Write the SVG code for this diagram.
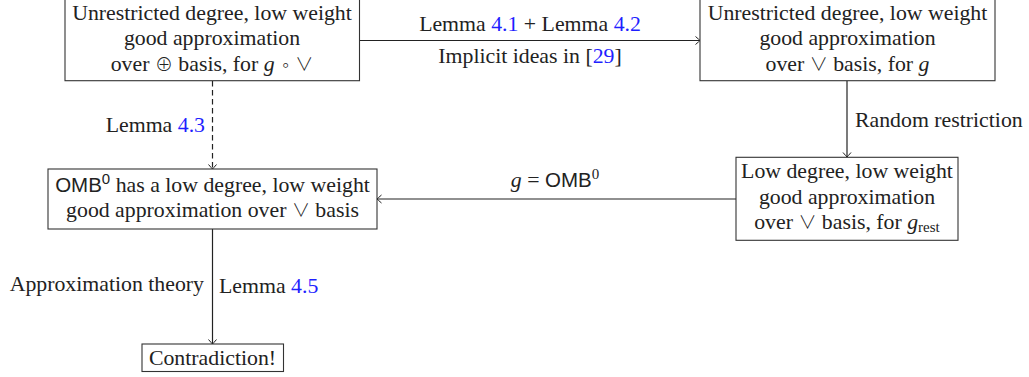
<svg xmlns="http://www.w3.org/2000/svg" width="1029" height="377" viewBox="0 0 1029 377">
<style>
.box{fill:#fff;stroke:#333;stroke-width:1.1}
.t{font-family:"Liberation Serif","DejaVu Serif",serif;font-size:21.8px;fill:#222}
.c{text-anchor:middle}
.e{text-anchor:end}
.l{fill:#1f1fff}
.i{font-style:italic}
.sf{font-family:"Liberation Sans","DejaVu Sans",sans-serif;font-size:20.5px}
.sym{font-family:"Noto Sans CJK JP","DejaVu Sans",sans-serif;font-weight:300;font-size:18px}
.sup{font-size:15px}
.edge{fill:none;stroke:#222;stroke-width:1.2}
.dash{stroke-dasharray:5.5,3.5}
</style>
<defs>
<marker id="ah" viewBox="-6 -5 7 10" markerWidth="7" markerHeight="10" refX="0" refY="0" orient="auto" markerUnits="userSpaceOnUse">
<path d="M-4.5,-4 Q-1,-1 0,0 Q-1,1 -4.5,4" fill="none" stroke="#222" stroke-width="1"/>
</marker>
</defs>
<rect width="1029" height="377" fill="#fff"/>
<g id="connectors">
<line class="edge" x1="359" y1="40.5" x2="700" y2="40.5" marker-end="url(#ah)"/>
<line class="edge" x1="847" y1="81" x2="847" y2="157" marker-end="url(#ah)"/>
<line class="edge" x1="736" y1="199" x2="377" y2="199" marker-end="url(#ah)"/>
<line class="edge dash" x1="212.5" y1="81" x2="212.5" y2="169" marker-end="url(#ah)"/>
<line class="edge" x1="212.5" y1="229" x2="212.5" y2="344" marker-end="url(#ah)"/>
<text class="t c" x="530" y="31">Lemma <tspan class="l">4.1</tspan> + Lemma <tspan class="l">4.2</tspan></text>
<text class="t c" x="530" y="63">Implicit ideas in [<tspan class="l">29</tspan>]</text>
<text class="t" x="855" y="127">Random restriction</text>
<text class="t c" x="555" y="187"><tspan class="i">g</tspan> = <tspan class="sf">OMB</tspan><tspan class="sup" dy="-8">0</tspan></text>
<text class="t e" x="205" y="132">Lemma <tspan class="l">4.3</tspan></text>
<text class="t e" x="204" y="291">Approximation theory</text>
<text class="t" x="219" y="293">Lemma <tspan class="l">4.5</tspan></text>
</g>
<g id="n1">
<rect class="box" x="65" y="-2" width="294.5" height="82.7"/>
<text class="t c" x="212" y="20">Unrestricted degree, low weight</text>
<text class="t c" x="212" y="45">good approximation</text>
<text class="t c" x="212" y="71">over <tspan class="sym">⊕</tspan> basis, for <tspan class="i">g</tspan> <tspan class="sym">∘ ∨</tspan></text>
</g>
<g id="n2">
<rect class="box" x="700" y="-2" width="295" height="82.7"/>
<text class="t c" x="847.5" y="20">Unrestricted degree, low weight</text>
<text class="t c" x="847.5" y="45">good approximation</text>
<text class="t c" x="847.5" y="71">over <tspan class="sym">∨</tspan> basis, for <tspan class="i">g</tspan></text>
</g>
<g id="n3">
<rect class="box" x="736" y="157.3" width="222" height="83"/>
<text class="t c" x="847" y="178">Low degree, low weight</text>
<text class="t c" x="847" y="204">good approximation</text>
<text class="t c" x="847" y="229">over <tspan class="sym">∨</tspan> basis, for <tspan class="i">g</tspan><tspan class="sup" dy="3">rest</tspan></text>
</g>
<g id="n4">
<rect class="box" x="48" y="169" width="329" height="60"/>
<text class="t c" x="212.5" y="192"><tspan class="sf">OMB</tspan><tspan class="sf" style="font-size:15px" dy="-8">0</tspan><tspan dy="8"> has a low degree, low weight</tspan></text>
<text class="t c" x="212.5" y="217">good approximation over <tspan class="sym">∨</tspan> basis</text>
</g>
<g id="n5">
<rect class="box" x="142" y="344" width="141.5" height="27.5"/>
<text class="t c" x="212.5" y="365">Contradiction!</text>
</g>
</svg>
